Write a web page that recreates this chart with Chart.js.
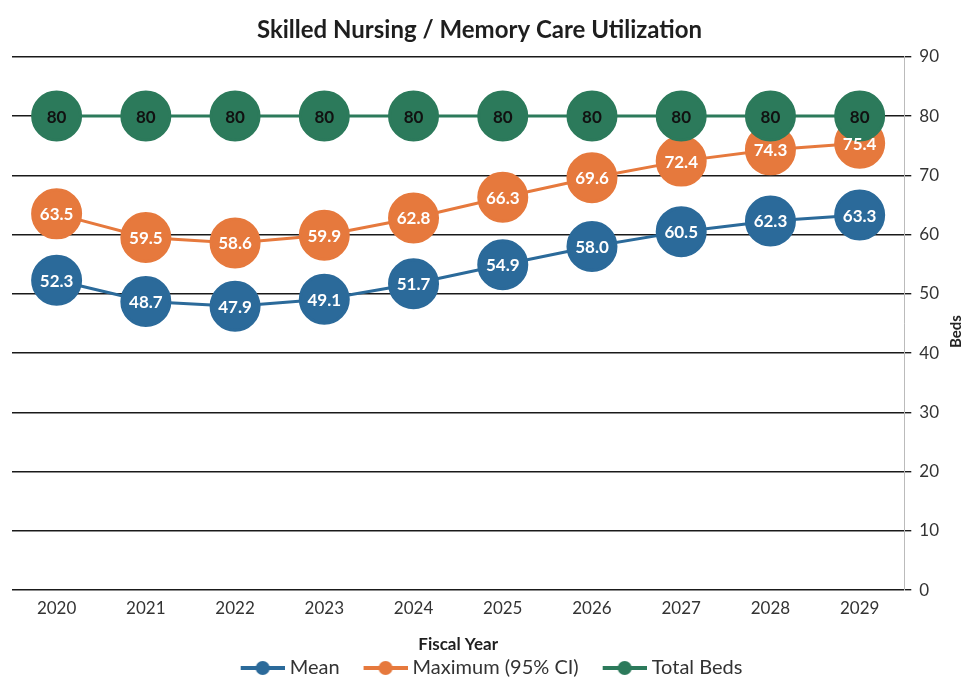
<!DOCTYPE html>
<html>
<head>
<meta charset="utf-8">
<script src="https://cdn.jsdelivr.net/npm/chart.js@4"></script>
<style>
    html, body { margin: 0; padding: 0; background: #fff; }
    #wrap { width: 965px; height: 688px; }
</style>
</head>
<body>
<div id="wrap"><canvas id="utilChart"></canvas></div>
<script>
// Skilled nursing / memory care utilization

const years = ['2020', '2021', '2022', '2023', '2024', '2025', '2026', '2027', '2028', '2029'];
const meanBeds = [52.3, 48.7, 47.9, 49.1, 51.7, 54.9, 58.0, 60.5, 62.3, 63.3];
const maxBeds = [63.5, 59.5, 58.6, 59.9, 62.8, 66.3, 69.6, 72.4, 74.3, 75.4];
const totalBeds = [80, 80, 80, 80, 80, 80, 80, 80, 80, 80];
const yTicks = [0, 10, 20, 30, 40, 50, 60, 70, 80, 90];

const BLUE = '#2b6a9a';
const ORANGE = '#e6793d';
const GREEN = '#2c7a5b';
const FONT = 'Lato, "Open Sans", sans-serif';

// line + dot swatch for the legend, with blank space on the left as item gap
function legendSwatch(color) {
    const c = document.createElement('canvas');
    c.width = 73;
    c.height = 16;
    const g = c.getContext('2d');
    g.strokeStyle = color;
    g.lineWidth = 4;
    g.beginPath();
    g.moveTo(29, 8);
    g.lineTo(73, 8);
    g.stroke();
    g.fillStyle = color;
    g.beginPath();
    g.arc(51, 8, 7, 0, Math.PI * 2);
    g.fill();
    return c;
}

// value labels inside the markers
const pointLabels = {
    id: 'pointLabels',
    afterDatasetsDraw(chart) {
        const ctx = chart.ctx;
        ctx.save();
        ctx.textAlign = 'center';
        ctx.textBaseline = 'middle';
        ctx.font = 'bold 17px ' + FONT;
        chart.data.datasets.forEach((ds, i) => {
            const meta = chart.getDatasetMeta(i);
            meta.data.forEach((pt, j) => {
                ctx.fillStyle = ds.labelColor;
                ctx.fillText(ds.format(ds.data[j]), pt.x, pt.y + 1);
            });
        });
        ctx.restore();
    }
};

// "Beds" title reading bottom-to-top on the right
const bedsTitle = {
    id: 'bedsTitle',
    afterDraw(chart) {
        const ctx = chart.ctx;
        const area = chart.chartArea;
        ctx.save();
        ctx.translate(chart.width - 9, (area.top + area.bottom) / 2 + 8);
        ctx.rotate(-Math.PI / 2);
        ctx.textAlign = 'center';
        ctx.textBaseline = 'middle';
        ctx.font = 'bold 15px ' + FONT;
        ctx.fillStyle = '#222';
        ctx.fillText('Beds', 0, 0);
        ctx.restore();
    }
};

function lineSet(label, data, color, labelColor, order, format) {
    return {
        label: label,
        data: data,
        borderColor: color,
        backgroundColor: color,
        borderWidth: 3,
        pointStyle: 'circle',
        pointRadius: 24,
        pointHoverRadius: 24,
        pointBackgroundColor: color,
        pointBorderColor: color,
        tension: 0,
        order: order,
        labelColor: labelColor,
        format: format,
        swatch: legendSwatch(color)
    };
}

const ctx = document.getElementById('utilChart');

new Chart(ctx, {
    type: 'line',
    data: {
        labels: years,
        datasets: [
            lineSet('Mean', meanBeds, BLUE, '#fff', 3, v => v.toFixed(1)),
            lineSet('Maximum (95% CI)', maxBeds, ORANGE, '#fff', 2, v => v.toFixed(1)),
            lineSet('Total Beds', totalBeds, GREEN, '#111', 1, v => String(v))
        ]
    },
    options: {
        responsive: true,
        maintainAspectRatio: false,
        animation: false,
        layout: {
            autoPadding: false,
            padding: { left: 12, right: 18, top: 0, bottom: 0 }
        },
        plugins: {
            title: {
                display: true,
                text: 'Skilled Nursing / Memory Care Utilization',
                color: '#1e1e1e',
                font: { family: FONT, size: 24, weight: 'bold' },
                padding: { top: 16, bottom: 12 }
            },
            legend: {
                position: 'bottom',
                labels: {
                    usePointStyle: true,
                    pointStyleWidth: 63,
                    color: '#333',
                    padding: 0,
                    font: { family: FONT, size: 20 },
                    sort: (a, b) => a.datasetIndex - b.datasetIndex,
                    generateLabels: chart => {
                        const items = Chart.defaults.plugins.legend.labels.generateLabels(chart);
                        items.forEach(it => {
                            it.pointStyle = chart.data.datasets[it.datasetIndex].swatch;
                        });
                        return items;
                    }
                }
            },
            tooltip: { enabled: false }
        },
        scales: {
            x: {
                offset: true,
                grid: { display: false },
                border: { display: false },
                ticks: {
                    color: '#333',
                    font: { family: FONT, size: 17 },
                    padding: 0
                },
                title: {
                    display: true,
                    text: 'Fiscal Year',
                    color: '#1e1e1e',
                    font: { family: FONT, size: 17, weight: 'bold' },
                    padding: { top: 16, bottom: 3 }
                }
            },
            y: {
                position: 'right',
                min: 0,
                max: 90,
                afterBuildTicks: axis => {
                    axis.ticks = yTicks.map(v => ({ value: v }));
                },
                grid: {
                    color: '#1a1a1a',
                    lineWidth: 1.4,
                    tickLength: 7
                },
                border: { display: true, color: '#bbb', width: 1 },
                ticks: {
                    color: '#333',
                    font: { family: FONT, size: 17 },
                    padding: 8
                }
            }
        }
    },
    plugins: [pointLabels, bedsTitle]
});
</script>
</body>
</html>
